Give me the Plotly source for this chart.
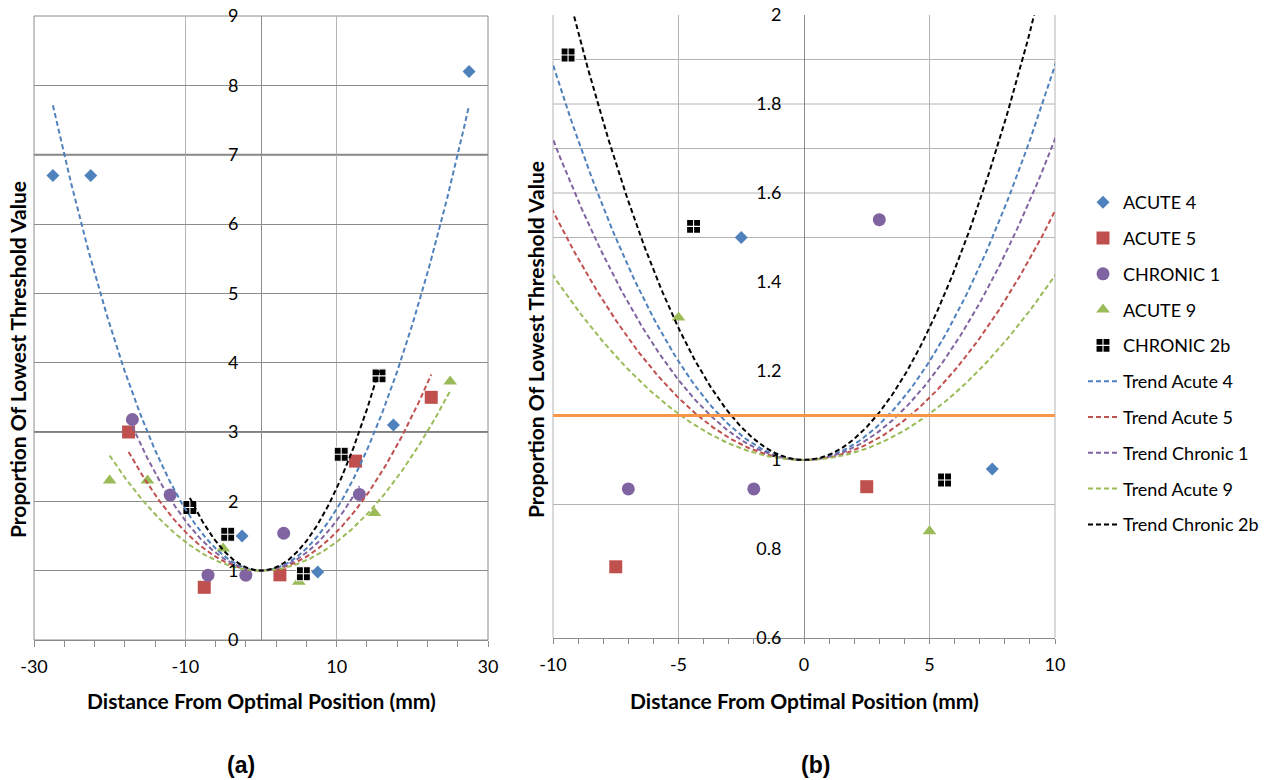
import numpy as np
import plotly.graph_objects as go

W, H = 1286, 780

# Measured thresholds (proportion of lowest threshold) vs. lead offset in mm
acute4_x = [-27.5, -22.5, -2.5, 7.5, 17.5, 27.5]
acute4_y = [6.7, 6.7, 1.5, 0.98, 3.1, 8.2]
acute5_x = [-17.5, -7.5, 2.5, 12.5, 22.5]
acute5_y = [3.0, 0.76, 0.94, 2.58, 3.5]
chronic1_x = [-17, -12, -7, -2, 3, 13]
chronic1_y = [3.18, 2.09, 0.935, 0.935, 1.54, 2.10]
acute9_x = [-20, -15, -5, 5, 15, 25]
acute9_y = [2.3, 2.3, 1.32, 0.84, 1.83, 3.73]
chronic2b_x = [-9.4, -4.4, 5.6, 10.6, 15.6]
chronic2b_y = [1.91, 1.525, 0.955, 2.68, 3.81]

series_names = ["ACUTE 4", "ACUTE 5", "CHRONIC 1", "ACUTE 9", "CHRONIC 2b"]
trend_names = ["Trend Acute 4", "Trend Acute 5", "Trend Chronic 1",
               "Trend Acute 9", "Trend Chronic 2b"]
series_x = [acute4_x, acute5_x, chronic1_x, acute9_x, chronic2b_x]
series_y = [acute4_y, acute5_y, chronic1_y, acute9_y, chronic2b_y]

# axis ticks (hyphen-minus labels)
left_xticks = [-30, -10, 10, 30]
right_xticks = [-10, -5, 0, 5, 10]

colors = ["#4F81BD", "#C0504D", "#8064A2", "#9BBB59", "#000000"]
symbols = ["diamond", "square", "circle", "triangle-up", "square-cross"]
sizes = [10, 13, 13, 12, 14]

# trendlines: y = 1 + c*x^2 (intercept fixed at the optimum)
TREND_BASE = 1.0
# reference level drawn on the zoomed panel
REF_LEVEL = 1.1
# horizontal grid levels on the zoomed panel
right_grid_levels = [0.9, 1.5, 1.6, 1.7, 1.8, 1.9]
# heavier grid rules on the full-range panel
left_heavy_levels = [3, 7]

FONT = "Lato"
GRID_DARK = "#8c8c8c"
GRID_LIGHT = "#b4b4b4"


def fit_quad(xs, ys):
    x = np.asarray(xs, float)
    y = np.asarray(ys, float) - TREND_BASE
    return float((x ** 2) @ y / (x ** 4).sum())


fig = go.Figure()

panels = [("x", "y", False), ("x2", "y2", True)]
for xa, ya, legend in panels:
    for i, name in enumerate(series_names):
        marker = dict(color=colors[i], symbol=symbols[i], size=sizes[i],
                      line=dict(width=0))
        if symbols[i] == "square-cross":
            marker["line"] = dict(color="white", width=1.1)
        fig.add_trace(go.Scatter(
            x=series_x[i], y=series_y[i], mode="markers", name=name,
            marker=marker, xaxis=xa, yaxis=ya, showlegend=legend,
            legendgroup=name, cliponaxis=True))
    for i, name in enumerate(trend_names):
        c = fit_quad(series_x[i], series_y[i])
        xs = np.linspace(min(series_x[i]), max(series_x[i]), 400)
        fig.add_trace(go.Scatter(
            x=xs, y=TREND_BASE + c * xs ** 2, mode="lines", name=name,
            line=dict(color=colors[i], width=2, dash="5px,3px"),
            xaxis=xa, yaxis=ya, showlegend=legend, legendgroup=name))

tickfont = dict(family=FONT, size=18, color="black")

L_X = [34 / W, 488 / W]
L_Y = [1 - 640 / H, 1 - 16 / H]
R_X = [553 / W, 1055 / W]
R_Y = [1 - 638 / H, 1 - 15 / H]

fig.update_layout(
    width=W, height=H,
    margin=dict(l=0, r=0, t=0, b=0, pad=0, autoexpand=False),
    paper_bgcolor="white", plot_bgcolor="white",
    xaxis=dict(domain=L_X, range=[-30, 30],
               tickvals=left_xticks, ticktext=[str(v) for v in left_xticks],
               showgrid=True, gridcolor=GRID_LIGHT, gridwidth=1,
               zeroline=True, zerolinecolor=GRID_DARK, zerolinewidth=1,
               showline=True, linecolor=GRID_DARK, linewidth=1,
               ticks="outside", ticklen=6, tickcolor=GRID_DARK,
               ticklabelstandoff=4,
               minor=dict(tick0=-30, dtick=4, ticks="outside", ticklen=6,
                          tickcolor=GRID_DARK, showgrid=False),
               tickfont=tickfont, anchor="y", fixedrange=True),
    yaxis=dict(domain=L_Y, range=[0, 9], dtick=1, tick0=0,
               anchor="free", position=261 / W,
               showgrid=True, gridcolor=GRID_DARK, gridwidth=1,
               zeroline=False, showline=False,
               ticks="outside", ticklen=19, tickcolor="rgba(0,0,0,0)",
               tickfont=tickfont, fixedrange=True),
    xaxis2=dict(domain=R_X, range=[-10, 10],
                tickvals=right_xticks, ticktext=[str(v) for v in right_xticks],
                showgrid=True, gridcolor=GRID_LIGHT, gridwidth=1,
                zeroline=True, zerolinecolor=GRID_DARK, zerolinewidth=1,
                showline=True, linecolor=GRID_DARK, linewidth=1,
                ticks="outside", ticklen=5, tickcolor=GRID_DARK,
                ticklabelstandoff=5,
                minor=dict(tick0=-10, dtick=1, ticks="outside", ticklen=5,
                           tickcolor=GRID_DARK, showgrid=False),
                tickfont=tickfont, anchor="y2", fixedrange=True),
    yaxis2=dict(domain=R_Y, range=[0.6, 2.0], dtick=0.2, tick0=0.6,
                anchor="free", position=804 / W,
                showgrid=False, zeroline=False, showline=False,
                ticks="outside", ticklen=19, tickcolor="rgba(0,0,0,0)",
                tickfont=tickfont, fixedrange=True),
    legend=dict(x=1083 / W, y=1 - 184 / H, xanchor="left", yanchor="top",
                font=dict(family=FONT, size=18, color="black"),
                bgcolor="rgba(0,0,0,0)", traceorder="grouped",
                tracegroupgap=9.4, itemwidth=30),
)

shapes = [
    # frame of the full-range panel
    dict(type="rect", xref="x domain", yref="y domain", x0=0, x1=1, y0=0, y1=1,
         line=dict(color=GRID_DARK, width=1), layer="below"),
    # side borders of the zoomed panel
    dict(type="line", xref="x2 domain", yref="y2 domain", x0=0, x1=0, y0=0, y1=1,
         line=dict(color=GRID_LIGHT, width=1), layer="below"),
    dict(type="line", xref="x2 domain", yref="y2 domain", x0=1, x1=1, y0=0, y1=1,
         line=dict(color=GRID_LIGHT, width=1), layer="below"),
]
for lvl in left_heavy_levels:
    shapes.append(dict(type="line", xref="x domain", yref="y", x0=0, x1=1,
                       y0=lvl, y1=lvl, line=dict(color="#7f7f7f", width=2),
                       layer="below"))
for lvl in right_grid_levels:
    shapes.append(dict(type="line", xref="x2 domain", yref="y2", x0=0, x1=1,
                       y0=lvl, y1=lvl, line=dict(color=GRID_LIGHT, width=1),
                       layer="below"))
shapes.append(dict(type="line", xref="x2 domain", yref="y2", x0=0, x1=1,
                   y0=REF_LEVEL, y1=REF_LEVEL,
                   line=dict(color="#F79646", width=3), layer="above"))
fig.update_layout(shapes=shapes)

title_font = dict(family=FONT, size=21, color="black", weight="bold")
label_font = dict(family="Liberation Sans Narrow, Liberation Sans", size=23,
                  color="black", weight="bold")
annotations = [
    dict(text="Distance From Optimal Position (mm)", x=261 / W, y=1 - 700 / H,
         font=title_font),
    dict(text="Distance From Optimal Position (mm)", x=804 / W, y=1 - 700 / H,
         font=title_font),
    dict(text="Proportion Of Lowest Threshold Value", x=17 / W, y=1 - 360 / H,
         textangle=-90, font=title_font),
    dict(text="Proportion Of Lowest Threshold Value", x=535 / W, y=1 - 340 / H,
         textangle=-90, font=title_font),
    dict(text="(a)", x=241 / W, y=1 - 765 / H, font=label_font),
    dict(text="(b)", x=815 / W, y=1 - 765 / H, font=label_font),
]
for a in annotations:
    a.update(xref="paper", yref="paper", showarrow=False,
             xanchor="center", yanchor="middle")
fig.update_layout(annotations=annotations)

fig.write_html("out.html")
